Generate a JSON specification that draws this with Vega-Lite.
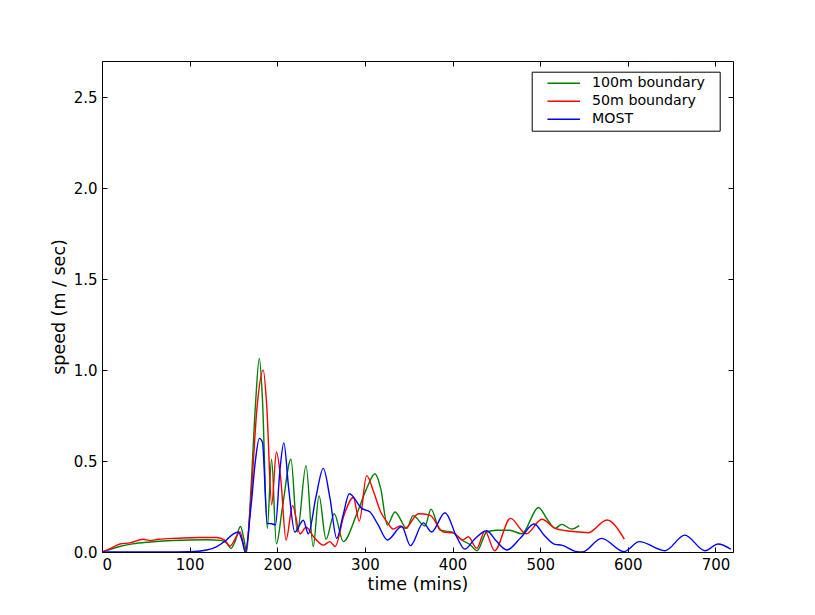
{
  "$schema": "https://vega.github.io/schema/vega-lite/v6.json",
  "width": 631,
  "height": 491,
  "autosize": "none",
  "padding": {"left": 102, "top": 61, "right": 82, "bottom": 63},
  "background": "white",
  "config": {
    "view": {"stroke": "black", "strokeWidth": 1},
    "font": "DejaVu Sans",
    "axis": {"grid": false, "domain": false, "tickColor": "black", "tickSize": -5, "labelColor": "black", "titleColor": "black", "titleFontWeight": "normal", "labelFontSize": 15, "titleFontSize": 17.5, "labelFont": "DejaVu Sans", "titleFont": "DejaVu Sans"},
    "legend": {"orient": "none", "legendX": 429.7, "legendY": 10.7, "strokeColor": "black", "fillColor": "white", "padding": 3.5, "symbolType": "M0.61,0H5.25", "symbolSize": 196, "symbolStrokeWidth": 1.4, "labelOffset": 40.8, "labelFontSize": 14.2, "labelFont": "DejaVu Sans", "labelColor": "black", "rowPadding": 2}
  },
  "data": {"values": [
    {"series": "100m boundary", "t": 0, "v": 0},
    {"series": "100m boundary", "t": 10, "v": 0.015},
    {"series": "100m boundary", "t": 20, "v": 0.03},
    {"series": "100m boundary", "t": 35, "v": 0.045},
    {"series": "100m boundary", "t": 55, "v": 0.055},
    {"series": "100m boundary", "t": 75, "v": 0.062},
    {"series": "100m boundary", "t": 100, "v": 0.066},
    {"series": "100m boundary", "t": 120, "v": 0.067},
    {"series": "100m boundary", "t": 135, "v": 0.064},
    {"series": "100m boundary", "t": 142, "v": 0.05},
    {"series": "100m boundary", "t": 147, "v": 0.02},
    {"series": "100m boundary", "t": 152, "v": 0.06},
    {"series": "100m boundary", "t": 158, "v": 0.14},
    {"series": "100m boundary", "t": 162, "v": 0.07},
    {"series": "100m boundary", "t": 165, "v": 0},
    {"series": "100m boundary", "t": 170, "v": 0.35},
    {"series": "100m boundary", "t": 175, "v": 0.8},
    {"series": "100m boundary", "t": 179.5, "v": 1.065},
    {"series": "100m boundary", "t": 183, "v": 0.85},
    {"series": "100m boundary", "t": 188.6, "v": 0.13},
    {"series": "100m boundary", "t": 193.5, "v": 0.51},
    {"series": "100m boundary", "t": 199, "v": 0.045},
    {"series": "100m boundary", "t": 206, "v": 0.25},
    {"series": "100m boundary", "t": 215.6, "v": 0.51},
    {"series": "100m boundary", "t": 222.9, "v": 0.11},
    {"series": "100m boundary", "t": 232.8, "v": 0.475},
    {"series": "100m boundary", "t": 241, "v": 0.03},
    {"series": "100m boundary", "t": 247.6, "v": 0.31},
    {"series": "100m boundary", "t": 255.6, "v": 0.07},
    {"series": "100m boundary", "t": 265, "v": 0.21},
    {"series": "100m boundary", "t": 275.3, "v": 0.057},
    {"series": "100m boundary", "t": 290, "v": 0.2},
    {"series": "100m boundary", "t": 302, "v": 0.35},
    {"series": "100m boundary", "t": 311.5, "v": 0.43},
    {"series": "100m boundary", "t": 318, "v": 0.35},
    {"series": "100m boundary", "t": 325.6, "v": 0.148},
    {"series": "100m boundary", "t": 334.3, "v": 0.22},
    {"series": "100m boundary", "t": 347.7, "v": 0.13},
    {"series": "100m boundary", "t": 355, "v": 0.2},
    {"series": "100m boundary", "t": 368.5, "v": 0.143},
    {"series": "100m boundary", "t": 375.4, "v": 0.236},
    {"series": "100m boundary", "t": 385.7, "v": 0.12},
    {"series": "100m boundary", "t": 399, "v": 0.11},
    {"series": "100m boundary", "t": 410.4, "v": 0.066},
    {"series": "100m boundary", "t": 420, "v": 0.04},
    {"series": "100m boundary", "t": 428, "v": 0.007},
    {"series": "100m boundary", "t": 439, "v": 0.11},
    {"series": "100m boundary", "t": 450, "v": 0.12},
    {"series": "100m boundary", "t": 465, "v": 0.12},
    {"series": "100m boundary", "t": 479, "v": 0.1},
    {"series": "100m boundary", "t": 498, "v": 0.245},
    {"series": "100m boundary", "t": 508, "v": 0.18},
    {"series": "100m boundary", "t": 517, "v": 0.13},
    {"series": "100m boundary", "t": 524.5, "v": 0.152},
    {"series": "100m boundary", "t": 536, "v": 0.126},
    {"series": "100m boundary", "t": 544.5, "v": 0.145},
    {"series": "50m boundary", "t": 0, "v": 0},
    {"series": "50m boundary", "t": 10, "v": 0.02},
    {"series": "50m boundary", "t": 20.5, "v": 0.044},
    {"series": "50m boundary", "t": 32, "v": 0.05},
    {"series": "50m boundary", "t": 47, "v": 0.07},
    {"series": "50m boundary", "t": 55, "v": 0.063},
    {"series": "50m boundary", "t": 64, "v": 0.07},
    {"series": "50m boundary", "t": 87, "v": 0.076},
    {"series": "50m boundary", "t": 110, "v": 0.08},
    {"series": "50m boundary", "t": 131, "v": 0.08},
    {"series": "50m boundary", "t": 140, "v": 0.065},
    {"series": "50m boundary", "t": 146, "v": 0.033},
    {"series": "50m boundary", "t": 157.5, "v": 0.11},
    {"series": "50m boundary", "t": 164, "v": 0},
    {"series": "50m boundary", "t": 170, "v": 0.3},
    {"series": "50m boundary", "t": 177, "v": 0.8},
    {"series": "50m boundary", "t": 184, "v": 1.0},
    {"series": "50m boundary", "t": 188, "v": 0.8},
    {"series": "50m boundary", "t": 193.6, "v": 0.26},
    {"series": "50m boundary", "t": 199, "v": 0.55},
    {"series": "50m boundary", "t": 204, "v": 0.4},
    {"series": "50m boundary", "t": 210, "v": 0.066},
    {"series": "50m boundary", "t": 217.5, "v": 0.255},
    {"series": "50m boundary", "t": 226, "v": 0.1},
    {"series": "50m boundary", "t": 232.8, "v": 0.136},
    {"series": "50m boundary", "t": 242, "v": 0.08},
    {"series": "50m boundary", "t": 252.5, "v": 0.038},
    {"series": "50m boundary", "t": 260, "v": 0.057},
    {"series": "50m boundary", "t": 266, "v": 0.03},
    {"series": "50m boundary", "t": 276, "v": 0.2},
    {"series": "50m boundary", "t": 286.8, "v": 0.3},
    {"series": "50m boundary", "t": 293.6, "v": 0.17},
    {"series": "50m boundary", "t": 302, "v": 0.42},
    {"series": "50m boundary", "t": 310, "v": 0.33},
    {"series": "50m boundary", "t": 318, "v": 0.22},
    {"series": "50m boundary", "t": 325, "v": 0.167},
    {"series": "50m boundary", "t": 332.4, "v": 0.126},
    {"series": "50m boundary", "t": 340, "v": 0.143},
    {"series": "50m boundary", "t": 345.7, "v": 0.13},
    {"series": "50m boundary", "t": 361, "v": 0.21},
    {"series": "50m boundary", "t": 374, "v": 0.203},
    {"series": "50m boundary", "t": 389.5, "v": 0.11},
    {"series": "50m boundary", "t": 401, "v": 0.105},
    {"series": "50m boundary", "t": 412, "v": 0.066},
    {"series": "50m boundary", "t": 418, "v": 0.084},
    {"series": "50m boundary", "t": 427.5, "v": 0.02},
    {"series": "50m boundary", "t": 437, "v": 0.115},
    {"series": "50m boundary", "t": 448, "v": 0.007},
    {"series": "50m boundary", "t": 466, "v": 0.185},
    {"series": "50m boundary", "t": 484, "v": 0.1},
    {"series": "50m boundary", "t": 502, "v": 0.18},
    {"series": "50m boundary", "t": 517, "v": 0.13},
    {"series": "50m boundary", "t": 530, "v": 0.117},
    {"series": "50m boundary", "t": 545, "v": 0.11},
    {"series": "50m boundary", "t": 555, "v": 0.106},
    {"series": "50m boundary", "t": 576, "v": 0.176},
    {"series": "50m boundary", "t": 596, "v": 0.071},
    {"series": "MOST", "t": 0, "v": 0},
    {"series": "MOST", "t": 60, "v": 0},
    {"series": "MOST", "t": 100, "v": 0.001},
    {"series": "MOST", "t": 119.5, "v": 0.011},
    {"series": "MOST", "t": 131, "v": 0.03},
    {"series": "MOST", "t": 142, "v": 0.066},
    {"series": "MOST", "t": 150, "v": 0.1},
    {"series": "MOST", "t": 155.5, "v": 0.11},
    {"series": "MOST", "t": 160, "v": 0.06},
    {"series": "MOST", "t": 163.5, "v": 0},
    {"series": "MOST", "t": 170, "v": 0.25},
    {"series": "MOST", "t": 175, "v": 0.5},
    {"series": "MOST", "t": 179.5, "v": 0.625},
    {"series": "MOST", "t": 183, "v": 0.605},
    {"series": "MOST", "t": 188.6, "v": 0.157},
    {"series": "MOST", "t": 193.6, "v": 0.155},
    {"series": "MOST", "t": 198, "v": 0.15},
    {"series": "MOST", "t": 203, "v": 0.45},
    {"series": "MOST", "t": 207.5, "v": 0.6},
    {"series": "MOST", "t": 213, "v": 0.35},
    {"series": "MOST", "t": 220, "v": 0.11},
    {"series": "MOST", "t": 229.7, "v": 0.175},
    {"series": "MOST", "t": 235.4, "v": 0.1},
    {"series": "MOST", "t": 244, "v": 0.3},
    {"series": "MOST", "t": 252.5, "v": 0.46},
    {"series": "MOST", "t": 260, "v": 0.3},
    {"series": "MOST", "t": 267.8, "v": 0.075},
    {"series": "MOST", "t": 275, "v": 0.2},
    {"series": "MOST", "t": 282.2, "v": 0.32},
    {"series": "MOST", "t": 296.3, "v": 0.24},
    {"series": "MOST", "t": 305.8, "v": 0.22},
    {"series": "MOST", "t": 315, "v": 0.15},
    {"series": "MOST", "t": 325.6, "v": 0.066},
    {"series": "MOST", "t": 342, "v": 0.14},
    {"series": "MOST", "t": 352, "v": 0.035},
    {"series": "MOST", "t": 366.6, "v": 0.16},
    {"series": "MOST", "t": 376, "v": 0.11},
    {"series": "MOST", "t": 391.4, "v": 0.216},
    {"series": "MOST", "t": 405, "v": 0.08},
    {"series": "MOST", "t": 414, "v": 0.016},
    {"series": "MOST", "t": 425, "v": 0.07},
    {"series": "MOST", "t": 439, "v": 0.117},
    {"series": "MOST", "t": 450, "v": 0.06},
    {"series": "MOST", "t": 461.8, "v": 0.011},
    {"series": "MOST", "t": 478, "v": 0.08},
    {"series": "MOST", "t": 493, "v": 0.154},
    {"series": "MOST", "t": 505, "v": 0.09},
    {"series": "MOST", "t": 517, "v": 0.042},
    {"series": "MOST", "t": 524.5, "v": 0.038},
    {"series": "MOST", "t": 541.6, "v": 0.002},
    {"series": "MOST", "t": 548, "v": 0},
    {"series": "MOST", "t": 570, "v": 0.075},
    {"series": "MOST", "t": 595.6, "v": 0.002},
    {"series": "MOST", "t": 613, "v": 0.057},
    {"series": "MOST", "t": 642.4, "v": 0.007},
    {"series": "MOST", "t": 665, "v": 0.093},
    {"series": "MOST", "t": 688, "v": 0.007},
    {"series": "MOST", "t": 703, "v": 0.044},
    {"series": "MOST", "t": 717.7, "v": 0.015}
  ]},
  "layer": [
    {
      "mark": {"type": "line", "interpolate": "monotone", "strokeWidth": 1.4, "clip": true},
      "encoding": {
        "x": {"field": "t", "type": "quantitative", "scale": {"domain": [0, 720], "nice": false, "zero": false},
              "axis": {"title": "time (mins)", "values": [0, 100, 200, 300, 400, 500, 600, 700], "labelPadding": 10, "titlePadding": 3}},
        "y": {"field": "v", "type": "quantitative", "scale": {"domain": [0, 2.7], "nice": false, "zero": false},
              "axis": {"title": "speed (m / sec)", "values": [0, 0.5, 1, 1.5, 2, 2.5], "format": ".1f", "labelPadding": 10, "titlePadding": 5}},
        "color": {"field": "series", "type": "nominal",
                  "scale": {"domain": ["100m boundary", "50m boundary", "MOST"], "range": ["#008000", "#ff0000", "#0000ff"]},
                  "legend": {"title": "\u00a0", "titleOrient": "right", "titleFontSize": 1, "titlePadding": 11}}
      }
    },
    {
      "mark": {"type": "point", "opacity": 0},
      "encoding": {
        "x": {"field": "t", "type": "quantitative", "axis": {"orient": "top", "labels": false, "title": null, "values": [0, 100, 200, 300, 400, 500, 600, 700]}},
        "y": {"field": "v", "type": "quantitative", "axis": {"orient": "right", "labels": false, "title": null, "values": [0, 0.5, 1, 1.5, 2, 2.5]}}
      }
    }
  ],
  "resolve": {"axis": {"x": "independent", "y": "independent"}}
}
